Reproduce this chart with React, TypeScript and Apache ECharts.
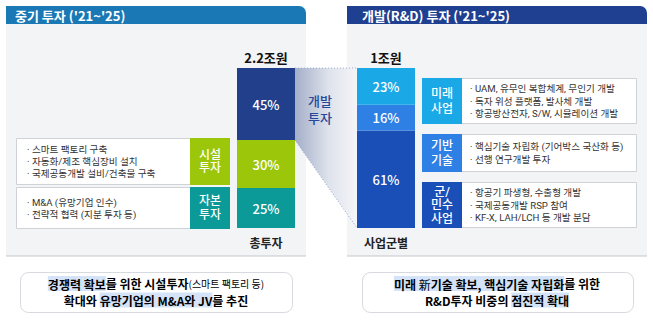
import React, { useEffect, useRef } from "react";
import * as echarts from "echarts";

// ---- data ----
const totalAxisLabel = ["총투자"];
const totalAmount = ["2.2조원"];
const totalSegments = ["자본투자", "시설투자", "개발투자"];
const totalValues = [25, 30, 45];
const totalColors = ["#0b9a98", "#9bc60a", "#223f8b"];

const rdAxisLabel = ["사업군별"];
const rdAmount = ["1조원"];
const rdSegments = ["군/민수사업", "기반기술", "미래사업"];
const rdValues = [61, 16, 23];
const rdColors = ["#1a4fb8", "#2f80e5", "#1aa8e6"];

const leftHeader = "중기 투자 ('21~'25)";
const rightHeader = "개발(R&D) 투자 ('21~'25)";
const bridgeLabel = ["개발", "투자"];

const leftNoteLabels = [["시설", "투자"], ["자본", "투자"]];
const leftNoteColors = ["#9bc60a", "#0b9a98"];
const leftNotes = [
  ["· 스마트 팩토리 구축", "· 자동화/제조 핵심장비 설치", "· 국제공동개발 설비/건축물 구축"],
  ["· M&A (유망기업 인수)", "· 전략적 협력 (지분 투자 등)"],
];

const rightNoteLabels = [["미래", "사업"], ["기반", "기술"], ["군/", "민수", "사업"]];
const rightNoteColors = ["#1aa8e6", "#2f80e5", "#1a4fb8"];
const rightNotes = [
  ["· UAM, 유무인 복합체계, 무인기 개발", "· 독자 위성 플랫폼, 발사체 개발", "· 항공방산전자, S/W, 시뮬레이션 개발"],
  ["· 핵심기술 자립화 (기어박스 국산화 등)", "· 선행 연구개발 투자"],
  ["· 항공기 파생형, 수출형 개발", "· 국제공동개발 RSP 참여", "· KF-X, LAH/LCH 등 개발 분담"],
];

const FONT = "'Noto Sans CJK KR', 'Noto Sans', sans-serif";
const TIGHT = "Roboto, 'Noto Sans CJK KR', sans-serif";

// layout
const G0 = { left: 237, top: 68, width: 58, height: 160 };
const G1 = { left: 357, top: 68, width: 58, height: 160 };
const leftBoxes = [
  { y: 138, h: 46 },
  { y: 187, h: 41 },
];
const rightBoxes = [
  { y: 78, h: 45 },
  { y: 134, h: 37 },
  { y: 182, h: 45 },
];

export default function App() {
  const ref = useRef<HTMLDivElement>(null);
  useEffect(() => {
    if (!ref.current) return;
    const chart = echarts.init(ref.current, null, { renderer: "svg" });

    const mkSeries = (names: string[], vals: number[], colors: string[], idx: number) =>
      names.map((n, i) => ({
        type: "bar",
        name: n,
        stack: "s" + idx,
        xAxisIndex: idx * 2,
        yAxisIndex: idx,
        barWidth: "100%",
        data: [vals[i]],
        itemStyle: { color: colors[i] },
        label: {
          show: true,
          position: "inside",
          formatter: "{c}%",
          color: "#fff",
          fontSize: 13,
          fontWeight: 500,
          fontFamily: FONT,
        },
        z: 5,
      }));

    const bottomAxis = (data: string[], gi: number) => ({
      type: "category",
      gridIndex: gi,
      data,
      position: "bottom",
      axisLine: { show: false },
      axisTick: { show: false },
      axisLabel: { fontSize: 12, fontWeight: "bold", color: "#222", margin: 8, fontFamily: FONT },
    });
    const topAxis = (data: string[], gi: number) => ({
      type: "category",
      gridIndex: gi,
      data,
      position: "top",
      axisLine: { show: false },
      axisTick: { show: false },
      axisLabel: { fontSize: 13, fontWeight: "bold", color: "#111", margin: 4, fontFamily: FONT },
    });

    chart.setOption({
      animation: false,
      textStyle: { fontFamily: FONT },
      grid: [
        { ...G0, containLabel: false },
        { ...G1, containLabel: false },
      ],
      xAxis: [
        bottomAxis(totalAxisLabel, 0),
        topAxis(totalAmount, 0),
        bottomAxis(rdAxisLabel, 1),
        topAxis(rdAmount, 1),
      ],
      yAxis: [
        { type: "value", gridIndex: 0, min: 0, max: 100, show: false },
        { type: "value", gridIndex: 1, min: 0, max: 100, show: false },
      ],
      series: [
        ...mkSeries(totalSegments, totalValues, totalColors, 0),
        ...mkSeries(rdSegments, rdValues, rdColors, 1),
      ],
    });

    // bridge coordinates from axes
    const devBottom = totalValues[0] + totalValues[1];
    const pTop = chart.convertToPixel({ xAxisIndex: 0, yAxisIndex: 0 }, [0, 100]) as number[];
    const pDev = chart.convertToPixel({ xAxisIndex: 0, yAxisIndex: 0 }, [0, devBottom]) as number[];
    const qTop = chart.convertToPixel({ xAxisIndex: 2, yAxisIndex: 1 }, [0, 100]) as number[];
    const qBot = chart.convertToPixel({ xAxisIndex: 2, yAxisIndex: 1 }, [0, 0]) as number[];
    const xL = G0.left + G0.width;
    const xR = G1.left;

    const graphics: any[] = [];
    const lines = (arr: string[], x: number, cy: number, lh: number, style: any) => {
      const n = arr.length;
      arr.forEach((t, k) => {
        graphics.push({
          type: "text",
          z: 10,
          style: { ...style, x, y: cy + (k - (n - 1) / 2) * lh, text: t, verticalAlign: "middle" },
        });
      });
    };

    // panels
    graphics.push({ type: "rect", z: -10, shape: { x: 6, y: 24, width: 300, height: 232 }, style: { fill: "#f3f4f6" } });
    graphics.push({ type: "rect", z: -10, shape: { x: 347, y: 24, width: 300, height: 232 }, style: { fill: "#f3f4f6" } });
    graphics.push({ type: "line", z: -9, shape: { x1: 6, y1: 256, x2: 306, y2: 256 }, style: { stroke: "#c4c7cc", lineWidth: 1 } });
    graphics.push({ type: "line", z: -9, shape: { x1: 347, y1: 256, x2: 647, y2: 256 }, style: { stroke: "#c4c7cc", lineWidth: 1 } });
    // headers
    graphics.push({ type: "rect", z: -8, shape: { x: 6, y: 6, width: 300, height: 18, r: [0, 7, 0, 0] }, style: { fill: "#1a78b5" } });
    graphics.push({ type: "rect", z: -8, shape: { x: 347, y: 6, width: 300, height: 18, r: [0, 7, 0, 0] }, style: { fill: "#1f3f91" } });
    graphics.push({ type: "text", z: 10, style: { x: 15, y: 15, text: leftHeader, fill: "#fff", font: `bold 13px ${FONT}`, verticalAlign: "middle" } });
    graphics.push({ type: "text", z: 10, style: { x: 362, y: 15, text: rightHeader, fill: "#fff", font: `bold 13px ${FONT}`, verticalAlign: "middle" } });

    // bridge
    graphics.push({
      type: "polygon",
      z: 1,
      shape: { points: [[xL, pTop[1]], [xR, qTop[1]], [xR, qBot[1]], [xL, pDev[1]]] },
      style: {
        fill: new echarts.graphic.LinearGradient(0, 0, 1, 0, [
          { offset: 0, color: "#a3aec8" },
          { offset: 0.55, color: "#dfe3ec" },
          { offset: 1, color: "#f4f5f8" },
        ]),
      },
    });
    graphics.push({
      type: "polyline",
      z: 2,
      shape: { points: [[xL, pTop[1]], [xR, qTop[1]]] },
      style: { stroke: "#9fb0d6", lineWidth: 1, lineDash: [1, 2] },
    });
    graphics.push({
      type: "polyline",
      z: 2,
      shape: { points: [[xL, pDev[1]], [xR, qBot[1]]] },
      style: { stroke: "#8fa3cf", lineWidth: 1, lineDash: [1, 2] },
    });
    lines(bridgeLabel, (xL + xR) / 2 - 6, 110, 16.5, { fill: "#27479a", font: `500 13px ${TIGHT}`, align: "center" });

    // left note boxes
    leftBoxes.forEach((b, i) => {
      graphics.push({ type: "rect", z: 3, shape: { x: 16.5, y: b.y + 0.5, width: 174, height: b.h }, style: { fill: "#fff", stroke: "#cfd2d6", lineWidth: 1 } });
      graphics.push({ type: "rect", z: 4, shape: { x: 190, y: b.y, width: 40, height: b.h + 1 }, style: { fill: leftNoteColors[i] } });
      lines(leftNoteLabels[i], 210, b.y + b.h / 2 + 0.5, 13.5, { fill: "#fff", font: `500 12px ${TIGHT}`, align: "center" });
      lines(leftNotes[i], 27, b.y + b.h / 2 + 0.5, 12, { fill: "#333", font: `9.6px ${TIGHT}`, align: "left" });
    });

    // right note boxes
    rightBoxes.forEach((b, i) => {
      graphics.push({ type: "rect", z: 3, shape: { x: 422.5, y: b.y + 0.5, width: 214, height: b.h }, style: { fill: "#fff", stroke: "#cfd2d6", lineWidth: 1 } });
      graphics.push({ type: "rect", z: 4, shape: { x: 422, y: b.y, width: 40, height: b.h + 1 }, style: { fill: rightNoteColors[i] } });
      lines(rightNoteLabels[i], 442, b.y + b.h / 2 + 0.5, i === 2 ? 13.5 : 15, { fill: "#fff", font: `500 12px ${TIGHT}`, align: "center" });
      lines(rightNotes[i], 470, b.y + b.h / 2 + 0.5, 12.5, { fill: "#333", font: `9.6px ${TIGHT}`, align: "left" });
    });

    // summary boxes
    const rich = {
      h: { fontFamily: FONT, fontSize: 12, fontWeight: "bold", color: "#23479b", backgroundColor: "#d4e3f7", padding: [2, 0, 1, 0] },
      n: { fontFamily: FONT, fontSize: 12, fontWeight: "normal", color: "#23479b", backgroundColor: "#d4e3f7", padding: [2, 0, 1, 0] },
      b: { fontFamily: FONT, fontSize: 12, fontWeight: "bold", color: "#222" },
      s: { fontFamily: FONT, fontSize: 10, color: "#444" },
    };
    graphics.push({ type: "rect", z: 3, shape: { x: 20.5, y: 272.5, width: 272, height: 40, r: 8 }, style: { fill: "#fff", stroke: "#d6d9de", lineWidth: 1 } });
    graphics.push({ type: "rect", z: 3, shape: { x: 362.5, y: 272.5, width: 271, height: 40, r: 8 }, style: { fill: "#fff", stroke: "#d6d9de", lineWidth: 1 } });
    graphics.push({
      type: "text",
      z: 10,
      style: { x: 156, y: 283.5, text: "{h|경쟁력 확보}{b|를 위한 시설투자}{s|(스마트 팩토리 등)}", rich, align: "center", verticalAlign: "middle" },
    });
    graphics.push({
      type: "text",
      z: 10,
      style: { x: 156, y: 300, text: "{b|확대와 }{h|유망기업의 M&A와 JV}{b|를 추진}", rich, align: "center", verticalAlign: "middle" },
    });
    graphics.push({
      type: "text",
      z: 10,
      style: { x: 497, y: 283.5, text: "{h|미래 }{n|新}{h|기술 확보, 핵심기술 자립화}{b|를 위한}", rich, align: "center", verticalAlign: "middle" },
    });
    graphics.push({
      type: "text",
      z: 10,
      style: { x: 497, y: 300, text: "{b|R&D투자 비중의 }{h|점진적 확대}", rich, align: "center", verticalAlign: "middle" },
    });

    chart.setOption({ graphic: graphics });

    return () => chart.dispose();
  }, []);

  return (
    <div
      ref={ref}
      style={{ position: "fixed", left: 0, top: 0, width: 653, height: 326, background: "#fff" }}
    />
  );
}
